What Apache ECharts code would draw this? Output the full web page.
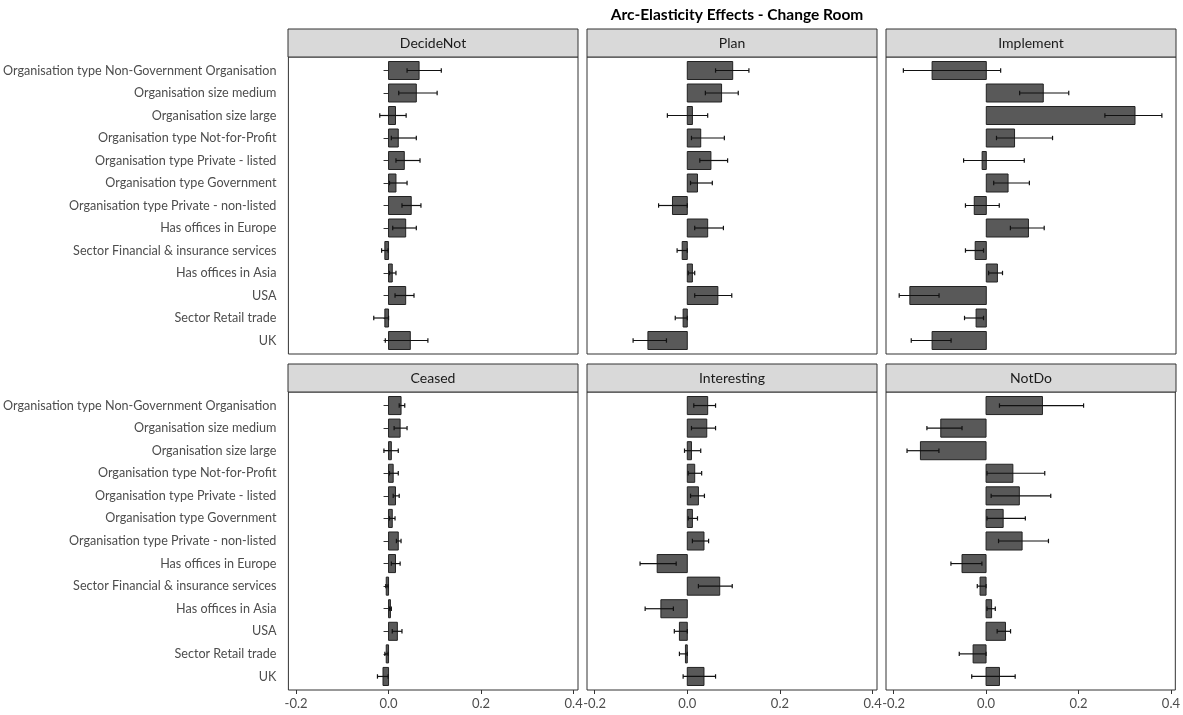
<!DOCTYPE html>
<html>
<head>
<meta charset="utf-8">
<script src="https://cdn.jsdelivr.net/npm/echarts@6/dist/echarts.min.js"></script>
<style>
html,body{margin:0;padding:0;background:#fff;}
#chart{width:1183px;height:715px;}
</style>
</head>
<body>
<div id="chart"></div>
<script>
const categories = [
  'Organisation type Non-Government Organisation',
  'Organisation size medium',
  'Organisation size large',
  'Organisation type Not-for-Profit',
  'Organisation type Private - listed',
  'Organisation type Government',
  'Organisation type Private - non-listed',
  'Has offices in Europe',
  'Sector Financial & insurance services',
  'Has offices in Asia',
  'USA',
  'Sector Retail trade',
  'UK'
];
const panelNames = ['DecideNot', 'Plan', 'Implement', 'Ceased', 'Interesting', 'NotDo'];
const xTicks = [-0.2, 0, 0.2, 0.4];

const decideNotEst  = [0.066, 0.060, 0.015, 0.021, 0.034, 0.016, 0.049, 0.037, -0.008, 0.008, 0.037, -0.008, 0.047];
const decideNotLow  = [0.040, 0.022, -0.019, 0.006, 0.016, 0.002, 0.029, 0.009, -0.015, 0.002, 0.014, -0.032, -0.007];
const decideNotHigh = [0.114, 0.105, 0.038, 0.060, 0.068, 0.040, 0.070, 0.060, -0.001, 0.016, 0.055, 0.000, 0.085];

const planEst  = [0.098, 0.074, 0.011, 0.029, 0.051, 0.022, -0.032, 0.044, -0.011, 0.011, 0.066, -0.009, -0.085];
const planLow  = [0.061, 0.039, -0.043, 0.009, 0.027, 0.007, -0.062, 0.016, -0.022, 0.002, 0.016, -0.026, -0.117];
const planHigh = [0.133, 0.110, 0.044, 0.080, 0.087, 0.054, 0.000, 0.078, 0.000, 0.016, 0.096, 0.000, -0.045];

const implementEst  = [-0.117, 0.123, 0.321, 0.061, -0.009, 0.047, -0.026, 0.091, -0.024, 0.024, -0.165, -0.022, -0.117];
const implementLow  = [-0.179, 0.072, 0.256, 0.022, -0.049, 0.016, -0.045, 0.052, -0.045, 0.005, -0.188, -0.047, -0.162];
const implementHigh = [0.031, 0.178, 0.379, 0.143, 0.082, 0.093, 0.028, 0.125, -0.006, 0.035, -0.102, -0.006, -0.076];

const ceasedEst  = [0.027, 0.025, 0.006, 0.010, 0.015, 0.008, 0.021, 0.015, -0.005, 0.004, 0.019, -0.005, -0.012];
const ceasedLow  = [0.023, 0.012, -0.010, 0.002, 0.010, 0.002, 0.017, 0.006, -0.006, 0.002, 0.008, -0.008, -0.024];
const ceasedHigh = [0.035, 0.040, 0.021, 0.021, 0.023, 0.014, 0.027, 0.025, -0.001, 0.006, 0.029, -0.001, -0.001];

const interestingEst  = [0.044, 0.042, 0.009, 0.016, 0.024, 0.011, 0.036, -0.065, 0.070, -0.057, -0.017, -0.004, 0.036];
const interestingLow  = [0.014, 0.009, -0.006, 0.002, 0.007, 0.002, 0.011, -0.102, 0.024, -0.091, -0.028, -0.017, -0.009];
const interestingHigh = [0.061, 0.061, 0.029, 0.031, 0.037, 0.022, 0.046, -0.024, 0.097, -0.030, 0.000, 0.000, 0.061];

const notDoEst  = [0.122, -0.098, -0.142, 0.058, 0.072, 0.037, 0.078, -0.052, -0.013, 0.012, 0.042, -0.028, 0.029];
const notDoLow  = [0.029, -0.128, -0.171, 0.002, 0.011, 0.002, 0.027, -0.076, -0.019, 0.002, 0.024, -0.058, -0.031];
const notDoHigh = [0.211, -0.052, -0.102, 0.127, 0.140, 0.085, 0.135, -0.009, 0.000, 0.020, 0.053, 0.000, 0.063];

const panelData = [
  [decideNotEst, decideNotLow, decideNotHigh],
  [planEst, planLow, planHigh],
  [implementEst, implementLow, implementHigh],
  [ceasedEst, ceasedLow, ceasedHigh],
  [interestingEst, interestingLow, interestingHigh],
  [notDoEst, notDoLow, notDoHigh]
];

const FONT = 'Lato, "Open Sans", sans-serif';
const colLeft = [288, 587, 886];
const panelW = 290;
const rowTop = [57, 392];
const panelH = [297, 298];
const stripH = 28;
const xMin = -0.2165, xMax = 0.4095;
const catIdx = categories.map((c, i) => i + 1);

const grids = [], xAxes = [], yAxes = [], series = [], graphics = [];

panelNames.forEach((name, p) => {
  const col = p % 3, row = Math.floor(p / 3);
  grids.push({
    left: colLeft[col], top: rowTop[row], width: panelW, height: panelH[row],
    show: true, borderColor: '#333333', borderWidth: 1, backgroundColor: '#ffffff'
  });
  xAxes.push({
    type: 'value', gridIndex: p, min: xMin, max: xMax,
    splitLine: { show: false },
    axisLine: { show: false },
    axisTick: { show: row === 1, customValues: xTicks, length: 4, lineStyle: { color: '#333333' } },
    axisLabel: {
      show: row === 1, customValues: xTicks, margin: 7,
      formatter: v => v.toFixed(1), color: '#4d4d4d', fontSize: 13, fontFamily: FONT
    }
  });
  yAxes.push({
    type: 'value', gridIndex: p, min: 0.4, max: 13.6, inverse: true,
    splitLine: { show: false },
    axisLine: { show: false },
    axisTick: { show: col === 0, customValues: catIdx, length: 5, lineStyle: { color: '#333333' } },
    axisLabel: {
      show: col === 0, customValues: catIdx, margin: 12,
      formatter: v => categories[Math.round(v) - 1] || '',
      color: '#4d4d4d', fontSize: 12.6, fontFamily: FONT
    }
  });
  const [est, lo, hi] = panelData[p];
  const rows = categories.map((c, i) => [est[i], i + 1, lo[i], hi[i]]);
  series.push({
    type: 'custom', xAxisIndex: p, yAxisIndex: p, clip: true,
    data: rows,
    encode: { x: [0, 2, 3], y: 1 },
    renderItem: (params, api) => {
      const v = api.value(0), y = api.value(1);
      const a = api.coord([0, y]), b = api.coord([v, y]);
      const h = api.size([0, 0.8])[1];
      return {
        type: 'rect',
        shape: { x: Math.min(a[0], b[0]), y: a[1] - h / 2, width: Math.abs(b[0] - a[0]), height: h },
        style: { fill: '#595959', stroke: '#222222', lineWidth: 1 }
      };
    }
  });
  series.push({
    type: 'custom', xAxisIndex: p, yAxisIndex: p, clip: true,
    data: rows, z: 3,
    encode: { x: [2, 3], y: 1 },
    renderItem: (params, api) => {
      const y = api.value(1);
      const l = api.coord([api.value(2), y]), r = api.coord([api.value(3), y]);
      const cap = 2.2;
      const st = { stroke: '#111111', lineWidth: 1.2 };
      return {
        type: 'group',
        children: [
          { type: 'line', shape: { x1: l[0], y1: l[1], x2: r[0], y2: r[1] }, style: st },
          { type: 'line', shape: { x1: l[0], y1: l[1] - cap, x2: l[0], y2: l[1] + cap }, style: st },
          { type: 'line', shape: { x1: r[0], y1: r[1] - cap, x2: r[0], y2: r[1] + cap }, style: st }
        ]
      };
    }
  });
  graphics.push({
    type: 'rect',
    shape: { x: colLeft[col], y: rowTop[row] - stripH, width: panelW, height: stripH },
    style: { fill: '#d9d9d9', stroke: '#333333', lineWidth: 1 },
    textContent: {
      style: { text: name, fill: '#1a1a1a', fontSize: 14, fontFamily: FONT }
    },
    textConfig: { position: 'inside' }
  });
});

const chart = echarts.init(document.getElementById('chart'), null, { renderer: 'canvas' });
chart.setOption({
  animation: false,
  backgroundColor: '#ffffff',
  title: {
    text: 'Arc-Elasticity Effects - Change Room',
    left: 732, top: 2, textAlign: 'center',
    textStyle: { fontSize: 15.5, fontWeight: 'bold', color: '#000000', fontFamily: FONT }
  },
  grid: grids,
  xAxis: xAxes,
  yAxis: yAxes,
  series: series,
  graphic: graphics
});
</script>
</body>
</html>
